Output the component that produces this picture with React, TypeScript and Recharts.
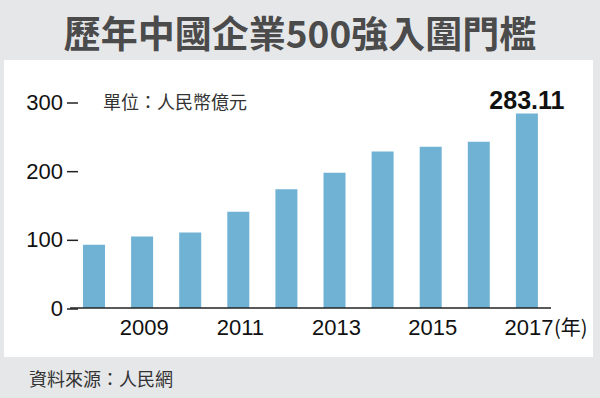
import React from 'react';
import { BarChart, Bar, XAxis, YAxis, LabelList } from 'recharts';

const years = ['2008', '2009', '2010', '2011', '2012', '2013', '2014', '2015', '2016', '2017'];
const thresholds = [92, 104, 110, 140, 173, 197, 228, 235, 242, 283.11];
const yTicks = [0, 100, 200, 300];
const labeledYears = ['2009', '2011', '2013', '2015', '2017'];
const title = '歷年中國企業500強入圍門檻';
const unitText = '單位：人民幣億元';
const sourceText = '資料來源：人民網';
const yearSuffix = '(年)';

const data = years.map((y, i) => ({ year: y, value: thresholds[i] }));

const NUM_FONT = '"Liberation Sans", Arial, sans-serif';
const CJK_FONT = '"Noto Sans CJK TC", "Noto Sans", sans-serif';

const YTick = (props: any) => {
  const { y, payload } = props;
  return (
    <g>
      <text x={63} y={y} dy="0.36em" textAnchor="end" fontFamily={NUM_FONT} fontSize={22} fill="#111">
        {payload.value}
      </text>
      <line x1={67} x2={78} y1={y + 1} y2={y + 1} stroke="#222" strokeWidth={1.5} />
    </g>
  );
};

const XTick = (props: any) => {
  const { x, payload } = props;
  if (!labeledYears.includes(payload.value)) return <g />;
  const last = payload.value === years[years.length - 1];
  return (
    <g>
      <text x={x + 2} y={335} textAnchor="middle" fontFamily={NUM_FONT} fontSize={22} fill="#111">
        {payload.value}
      </text>
      {last && (
        <text x={x + 27} y={335} textAnchor="start" fontFamily={CJK_FONT} fontSize={20} fill="#111">
          {yearSuffix}
        </text>
      )}
    </g>
  );
};

const TopLabel = (props: any) => {
  const { x, y, width, index, value } = props;
  if (index !== data.length - 1) return null;
  return (
    <text x={x + width / 2} y={y - 5} textAnchor="middle" fontFamily={NUM_FONT} fontWeight="bold" fontSize={25} fill="#111">
      {Number(value).toFixed(2)}
    </text>
  );
};

export default function App() {
  return (
    <div style={{ position: 'absolute', left: 0, top: 0, width: 600, height: 398, background: '#e6e7e9', overflow: 'hidden' }}>
      <div style={{ position: 'absolute', left: 0, top: 8, width: 600, textAlign: 'center', fontFamily: CJK_FONT, fontWeight: 'bold', fontSize: 37, lineHeight: '48px', color: '#4b4b4b' }}>
        {title}
      </div>
      <div style={{ position: 'absolute', left: 4, top: 60, width: 589, height: 297, background: '#ffffff' }} />
      <div style={{ position: 'absolute', left: 103, top: 89, fontFamily: CJK_FONT, fontSize: 18, lineHeight: '24px', color: '#333' }}>
        {unitText}
      </div>
      <div style={{ position: 'absolute', left: 29, top: 366, fontFamily: CJK_FONT, fontSize: 18, lineHeight: '24px', color: '#333' }}>
        {sourceText}
      </div>
      <div style={{ position: 'absolute', left: 0, top: 0 }}>
        <BarChart width={600} height={398} data={data} margin={{ top: 102, right: 49, bottom: 0, left: 0 }} barSize={22}>
          <XAxis dataKey="year" height={90} interval={0} tickLine={false} axisLine={{ stroke: '#222', strokeWidth: 1.5 }} tick={<XTick />} />
          <YAxis width={70} domain={[0, 300]} ticks={yTicks} axisLine={false} tickLine={false} tick={<YTick />} />
          <Bar dataKey="value" fill="#70b2d3" isAnimationActive={false}>
            <LabelList dataKey="value" content={<TopLabel />} />
          </Bar>
        </BarChart>
      </div>
    </div>
  );
}
